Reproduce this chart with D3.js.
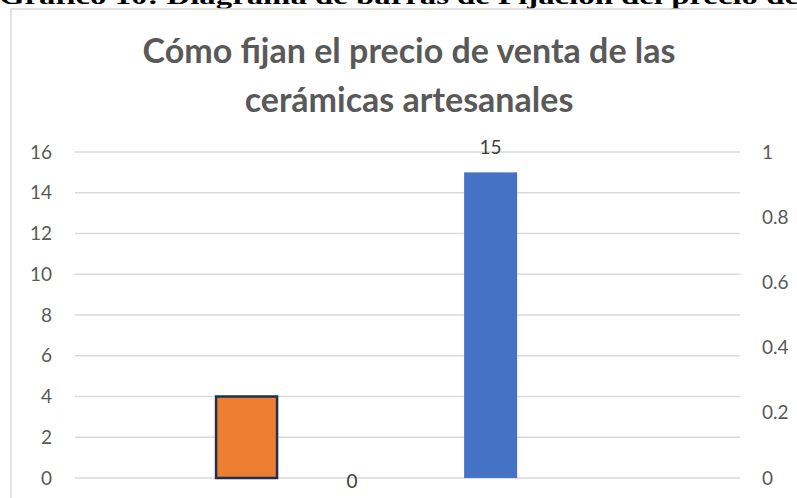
<!DOCTYPE html>
<html>
<head>
<meta charset="utf-8">
<script src="https://cdn.jsdelivr.net/npm/d3@7"></script>
<style>
  body { margin: 0; background: #fff; }
  svg { display: block; }
</style>
</head>
<body>
<svg id="chart" width="797" height="498"></svg>
<script>
// series shown in the chart (no category labels visible)
var seriesNames = ["Serie 1", "Serie 2", "Serie 3"];
var seriesValues = [4, 0, 15];
var seriesColors = ["#ED7D31", "#A5A5A5", "#4472C4"];
// which series get a data label
var showLabel = [false, true, true];

// axis ticks
var leftTicks = [0, 2, 4, 6, 8, 10, 12, 14, 16];
var rightTicks = [0, 0.2, 0.4, 0.6, 0.8, 1];

var titleLines = ["Cómo fijan el precio de venta de las", "cerámicas artesanales"];
var captionText = "Gráfico 10: Diagrama de barras de Fijación del precio de";

function drawChart(){
	var svg = d3.select("#chart");

	// plot area
	var left = 75, right = 740, top = 152, bottom = 478;

	// caption of the document, cut at the top
	svg.append("text")
		.attr("x", -1)
		.attr("y", 4)
		.attr("textLength", 800)
		.attr("lengthAdjust", "spacingAndGlyphs")
		.style("font-family", "'Liberation Serif', 'Times New Roman', serif")
		.style("font-weight", "bold")
		.style("font-size", "24px")
		.style("fill", "#000")
		.text(captionText);

	// chart frame
	svg.append("rect")
		.attr("x", 11)
		.attr("y", 9)
		.attr("width", 800)
		.attr("height", 500)
		.attr("fill", "none")
		.attr("stroke", "#d9d9d9")
		.attr("stroke-width", 1.5);

	// title
	svg.append("g").selectAll("text")
		.data(titleLines)
		.join("text")
		.attr("x", 409)
		.attr("y", function(d, i){ return 63 + i * 49; })
		.attr("text-anchor", "middle")
		.style("font-family", "Lato, 'Open Sans', sans-serif")
		.style("font-weight", "bold")
		.style("font-size", "34px")
		.style("fill", "#595959")
		.text(function(d){ return d; });

	var y = d3.scaleLinear().domain([0, 16]).range([bottom, top]);
	var y2 = d3.scaleLinear().domain([0, 1]).range([bottom, top]);

	// slot of each series inside the plot (0..1 of plot width) and bar width
	var slot = d3.scaleOrdinal().domain(seriesNames).range([0.258, 0.4165, 0.625]);
	var barW = d3.scaleOrdinal().domain(seriesNames).range([61, 53, 53]);
	var x = d3.scaleLinear().domain([0, 1]).range([left, right]);

	// gridlines
	svg.append("g").selectAll("line")
		.data(leftTicks)
		.join("line")
		.attr("x1", left)
		.attr("x2", right)
		.attr("y1", function(d){ return y(d); })
		.attr("y2", function(d){ return y(d); })
		.attr("stroke", "#d9d9d9")
		.attr("stroke-width", 1.5);

	// left axis
	var axL = svg.append("g")
		.attr("transform", "translate(" + 58 + ",0)")
		.call(d3.axisLeft(y).tickValues(leftTicks).tickSize(0).tickPadding(6));
	// right axis
	var axR = svg.append("g")
		.attr("transform", "translate(" + 756 + ",0)")
		.call(d3.axisRight(y2).tickValues(rightTicks).tickSize(0).tickPadding(6)
			.tickFormat(function(d){ return String(d); }));

	[axL, axR].forEach(function(ax){
		ax.select(".domain").remove();
		ax.selectAll("text")
			.style("font-family", "Lato, 'Open Sans', sans-serif")
			.style("font-size", "19px")
			.style("fill", "#595959");
	});

	// bars
	var data = seriesNames.map(function(n, i){
		return {name: n, value: seriesValues[i], color: seriesColors[i], label: showLabel[i]};
	});

	svg.append("g").selectAll("rect")
		.data(data)
		.join("rect")
		.attr("x", function(d){ return x(slot(d.name)) - barW(d.name) / 2; })
		.attr("y", function(d){ return y(d.value); })
		.attr("width", function(d){ return barW(d.name); })
		.attr("height", function(d){ return y(0) - y(d.value); })
		.attr("fill", function(d){ return d.color; })
		.attr("stroke", function(d){ return d.name === "Serie 1" ? "#1f3152" : "none"; })
		.attr("stroke-width", 2.5);

	// data labels
	svg.append("g").selectAll("text")
		.data(data.filter(function(d){ return d.label; }))
		.join("text")
		.attr("x", function(d){ return x(slot(d.name)); })
		.attr("y", function(d){ return d.value === 0 ? y(0) + 10 : y(d.value) - 18; })
		.attr("text-anchor", "middle")
		.style("font-family", "Lato, 'Open Sans', sans-serif")
		.style("font-size", "19px")
		.style("fill", "#404040")
		.text(function(d){ return d.value; });
}

drawChart();
</script>
</body>
</html>
